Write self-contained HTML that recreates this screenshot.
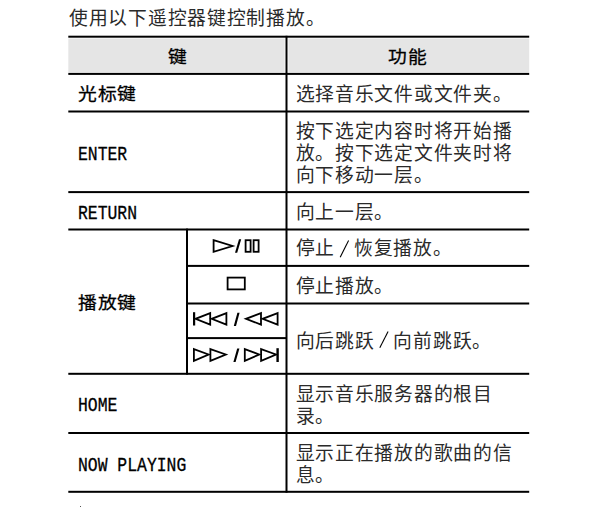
<!DOCTYPE html>
<html lang="zh-CN">
<head>
<meta charset="utf-8">
<style>
html,body{margin:0;padding:0;background:#fff;}
body{width:600px;height:507px;position:relative;overflow:hidden;}
.t{position:absolute;white-space:nowrap;font-family:"Liberation Serif",serif;font-size:18.8px;letter-spacing:0.72px;line-height:22px;color:#2a2a2a;}
.g{position:absolute;white-space:nowrap;font-family:"Liberation Sans",sans-serif;font-size:18.8px;letter-spacing:0.7px;line-height:22px;color:#000;-webkit-text-stroke:0.3px #000;transform:scaleY(0.9);transform-origin:0 50%;}
.m{position:absolute;white-space:nowrap;font-family:"Liberation Mono",monospace;font-size:20px;line-height:22px;color:#000;transform:scaleX(0.82);-webkit-text-stroke:0.3px #000;transform-origin:0 0;}
.sl{display:inline-block;width:19px;}
svg{position:absolute;left:0;top:0;}
</style>
</head>
<body>
<svg width="600" height="507" viewBox="0 0 600 507">
  <rect x="68.3" y="38.5" width="216.4" height="34" fill="#e5e5e5"/>
  <rect x="288.4" y="38.5" width="240.8" height="34" fill="#e5e5e5"/>
  <g fill="#000">
    <rect x="68.3" y="35.7" width="460.9" height="2"/>
    <rect x="68.3" y="72.9" width="460.9" height="2"/>
    <rect x="68.3" y="110.5" width="460.9" height="2"/>
    <rect x="68.3" y="191.1" width="460.9" height="2"/>
    <rect x="68.3" y="228.5" width="460.9" height="2"/>
    <rect x="186.1" y="264.9" width="343.1" height="2"/>
    <rect x="186.1" y="302.5" width="343.1" height="2"/>
    <rect x="186.1" y="337.1" width="100.4" height="2"/>
    <rect x="68.3" y="372.8" width="460.9" height="2"/>
    <rect x="68.3" y="432" width="460.9" height="2"/>
    <rect x="68.3" y="490.8" width="460.9" height="2"/>
    <rect x="285.5" y="35.8" width="2" height="456.9"/>
    <rect x="186" y="228.6" width="2" height="146"/>
  </g>
</svg>

<div class="t" style="left:69px;top:8px;">使用以下遥控器键控制播放。</div>

<div class="g" style="left:168px;top:47px">键</div>
<div class="g" style="left:388px;top:47px">功能</div>

<div class="g" style="left:78px;top:84px;">光标键</div>
<div class="t" style="left:295.5px;top:84px;">选择音乐文件或文件夹。</div>

<div class="m" style="left:78px;top:144px;">ENTER</div>
<div class="t" style="left:295.5px;top:121px;">按下选定内容时将开始播<br>放。按下选定文件夹时将<br>向下移动一层。</div>

<div class="m" style="left:78px;top:203px;">RETURN</div>
<div class="t" style="left:295.5px;top:202px;">向上一层。</div>

<div class="g" style="left:78px;top:292.5px;">播放键</div>
<div class="t" style="left:295.5px;top:238px;">停止<span class="sl"></span>恢复播放。</div>
<div class="t" style="left:295.5px;top:276px;">停止播放。</div>
<div class="t" style="left:295.5px;top:331px;">向后跳跃<span class="sl"></span>向前跳跃。</div>

<svg width="600" height="507" viewBox="0 0 600 507">
  <g fill="none" stroke="#000" stroke-width="1.8" stroke-linejoin="miter">
    <!-- play / pause -->
    <path d="M213.6 240.2 L232.5 246 L213.6 251.8 Z"/>
    <rect x="245.6" y="240.2" width="5" height="11.6"/>
    <rect x="253.6" y="240.2" width="5" height="11.6"/>
    <!-- stop -->
    <rect x="227.6" y="277.6" width="17.2" height="11.8"/>
    <!-- skip back / rewind -->
    <path d="M210.2 313.1 L195.5 318.8 L210.2 324.6 Z"/>
    <path d="M226.4 313.1 L211.7 318.8 L226.4 324.6 Z"/>
    <path d="M261 313.1 L246 318.8 L261 324.6 Z"/>
    <path d="M277.6 313.1 L262.6 318.8 L277.6 324.6 Z"/>
    <!-- ff / skip fwd -->
    <path d="M193.9 349.1 L208.6 354.5 L193.9 360.8 Z"/>
    <path d="M210.4 349.1 L225.8 354.5 L210.4 360.8 Z"/>
    <path d="M244.8 349.1 L259.2 354.5 L244.8 360.8 Z"/>
    <path d="M261.1 349.1 L276 354.5 L261.1 360.8 Z"/>
  </g>
  <g fill="#000">
    <rect x="193" y="312.2" width="2.2" height="13.3"/>
    <rect x="276.4" y="348.2" width="2.4" height="13.8"/>
    <path d="M235 252.7 L237.2 252.7 L241.2 239.3 L239 239.3 Z"/>
    <path d="M233.8 326 L236 326 L239.6 312.8 L237.4 312.8 Z"/>
    <path d="M233.4 362 L235.6 362 L239.4 348.4 L237.2 348.4 Z"/>
  </g>
  <g stroke="#000" stroke-width="1.1" fill="none">
    <line x1="340.2" y1="257.2" x2="348.6" y2="240.4"/>
    <line x1="379.8" y1="347.8" x2="388.1" y2="331.4"/>
  </g>
</svg>

<div class="m" style="left:78px;top:395px;">HOME</div>
<div class="t" style="left:295.5px;top:384px;">显示音乐服务器的根目<br>录。</div>

<div class="m" style="left:78px;top:455px;">NOW PLAYING</div>
<div class="t" style="left:295.5px;top:443px;">显示正在播放的歌曲的信<br>息。</div>

<div style="position:absolute;left:80px;top:506px;width:1px;height:1px;background:#555;"></div>
</body>
</html>
